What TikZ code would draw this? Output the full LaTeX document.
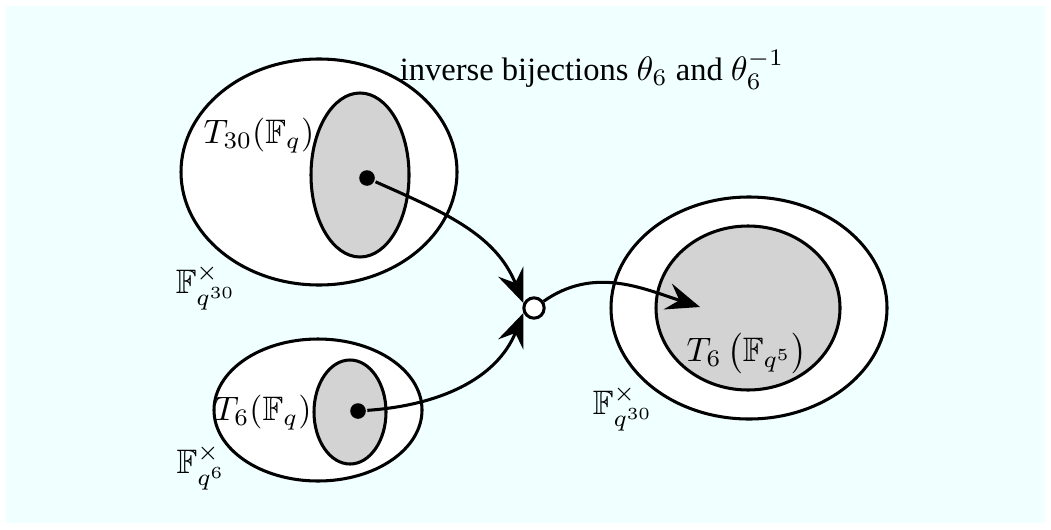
\documentclass[tikz,border=0pt]{standalone}
\usepackage{amsmath,amssymb}
\usepackage{fontspec}
\setmainfont{Liberation Serif}
\usepackage{xcolor}
\usetikzlibrary{arrows.meta, positioning}

\definecolor{bgcyan}{RGB}{240,255,255}
\definecolor{torusgray}{RGB}{211,211,211}

\begin{document}
\begin{tikzpicture}[x=0.295pt, y=-0.295pt, line width=0.9pt,
    region/.style={draw=black, fill=white},
    torus/.style={draw=black, fill=torusgray},
    elem/.style={circle, fill=black, inner sep=0pt, minimum size=4.6pt},
    hub/.style={circle, draw=black, fill=white, inner sep=0pt, minimum size=6pt},
    map/.style={-{Stealth[length=10pt, width=8pt, inset=3.6pt]}}]
        % Background
        \useasboundingbox (0,0) rectangle (1051,529);
        \fill[white] (0,0) rectangle (1051,529);
        \fill[bgcyan] (6,6) rectangle (1045,523);

        % Title
        \node[font=\fontsize{9.6}{11}\selectfont] (title) at (592,70) {inverse bijections $\theta_6$ and $\theta_6^{-1}$};

        % --- Upper left: F_{q^30} with T_30 ---
        \draw[region] (319,172) ellipse [x radius=138, y radius=113];
        \draw[torus] (360,175) ellipse [x radius=49, y radius=82];
        \node (Tthirty) at (259,136) {$T_{30}(\mathbb{F}_q)$};
        \node (Fthirty) at (206,287) {$\mathbb{F}_{q^{30}}^{\times}$};
        \node[elem] (a) at (367,178) {};

        % --- Lower left: F_{q^6} with T_6 ---
        \draw[region] (318,410) ellipse [x radius=104, y radius=71];
        \draw[torus] (350,412) ellipse [x radius=36, y radius=52];
        \node (Tsix) at (263,413) {$T_6(\mathbb{F}_q)$};
        \node (Fsix) at (201,467) {$\mathbb{F}_{q^{6}}^{\times}$};
        \node[elem] (b) at (358,411) {};

        % --- Right: F_{q^30} with T_6(F_{q^5}) ---
        \draw[region] (749,308) ellipse [x radius=138, y radius=111];
        \draw[torus] (748,308) ellipse [x radius=92, y radius=82];
        \node (Tfive) at (747,353) {$T_6\left(\mathbb{F}_{q^5}\right)$};
        \node (Fright) at (623,408) {$\mathbb{F}_{q^{30}}^{\times}$};
        \coordinate (c) at (700,307);

        % Middle point and maps
        \node[hub] (m) at (534,308) {};
        \draw[map] (a) to[out=-24, in=112] (m.155);
        \draw[map] (b) to[out=4, in=-112] (m.205);
        \draw[map] (m) to[out=35, in=162] (c);
    \end{tikzpicture}
\end{document}
